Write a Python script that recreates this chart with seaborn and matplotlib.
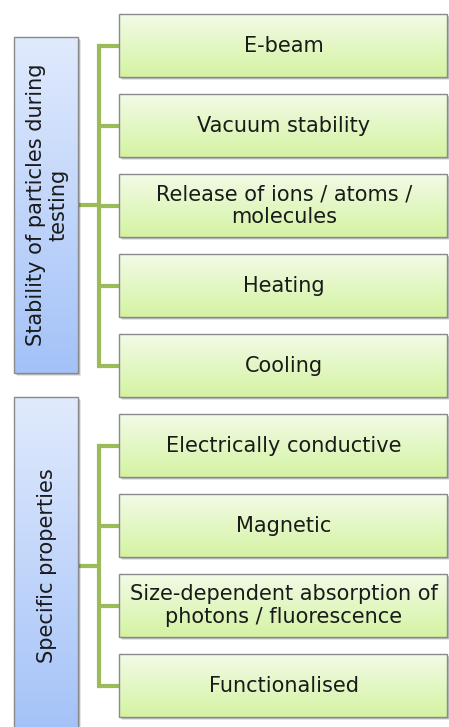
import numpy as np
import seaborn as sns
import matplotlib.pyplot as plt
from matplotlib.patches import Rectangle

# Diagram content: two groups, each with a list of child items.
group_labels = ["Stability of particles during\ntesting", "Specific properties"]
group_children = [
    ["E-beam", "Vacuum stability", "Release of ions / atoms /\nmolecules", "Heating", "Cooling"],
    ["Electrically conductive", "Magnetic", "Size-dependent absorption of\nphotons / fluorescence", "Functionalised"],
]

# Layout (pixels, figure is 449 x 727)
W, H = 449, 727
group_tops = [14, 414]          # top of first child box in each group
group_box_y = [(37, 373), (397, 735)]
left_x0, left_x1 = 14, 78
child_x0, child_x1 = 119, 447
child_h, child_pitch = 63, 80
trunk_x = 98.5

sns.set_theme(style="white")
plt.rcParams['font.family'] = ['DejaVu Sans']

green_cmap = sns.blend_palette(["#f2fbe6", "#d4f3a3"], n_colors=64, as_cmap=True)
blue_cmap = sns.blend_palette(["#e0eafd", "#a4c2f8"], n_colors=64, as_cmap=True)
line_col = "#9bbb59"
edge_col = "#8a8a8a"
text_col = "#1a1a1a"
fs = 15.0

fig = plt.figure(figsize=(W / 100, H / 100), dpi=100)
ax = fig.add_axes([0, 0, 1, 1])
grad = np.linspace(0, 1, 128).reshape(-1, 1)


def box(x0, y0, x1, y1, cmap):
    # soft drop shadow
    ax.add_patch(Rectangle((x0 + 3, y0 + 3), x1 - x0, y1 - y0, color="black", alpha=0.10, lw=0, zorder=1))
    ax.add_patch(Rectangle((x0 + 2, y0 + 2), x1 - x0, y1 - y0, color="black", alpha=0.18, lw=0, zorder=1))
    ax.imshow(grad, cmap=cmap, extent=(x0, x1, y1, y0), origin="upper", aspect="auto",
              interpolation="bilinear", zorder=2)
    ax.add_patch(Rectangle((x0, y0), x1 - x0, y1 - y0, fill=False, ec=edge_col, lw=1.0, zorder=3))


for gi, label in enumerate(group_labels):
    gy0, gy1 = group_box_y[gi]
    gmid = (gy0 + gy1) / 2
    box(left_x0, gy0, left_x1, gy1, blue_cmap)
    ax.text((left_x0 + left_x1) / 2 + 1, gmid, label, rotation=90, ha="center", va="center",
            fontsize=fs, color=text_col, linespacing=1.15, zorder=4)

    centers = []
    for ci, child in enumerate(group_children[gi]):
        y0 = group_tops[gi] + ci * child_pitch
        y1 = y0 + child_h
        box(child_x0, y0, child_x1, y1, green_cmap)
        ax.text((child_x0 + child_x1) / 2 + 1, (y0 + y1) / 2, child, ha="center", va="center",
                fontsize=fs, color=text_col, linespacing=1.15, zorder=4)
        centers.append((y0 + y1) / 2)

    # connectors
    ax.plot([left_x1, trunk_x], [gmid, gmid], color=line_col, lw=3, solid_capstyle="butt", zorder=0.5)
    ax.plot([trunk_x, trunk_x], [centers[0], centers[-1]], color=line_col, lw=3,
            solid_capstyle="projecting", zorder=0.5)
    for cy in centers:
        ax.plot([trunk_x, child_x0], [cy, cy], color=line_col, lw=3, solid_capstyle="butt", zorder=0.5)

ax.set_xlim(0, W)
ax.set_ylim(H, 0)
ax.axis("off")
fig.savefig("out.png", dpi=100, facecolor="white")
